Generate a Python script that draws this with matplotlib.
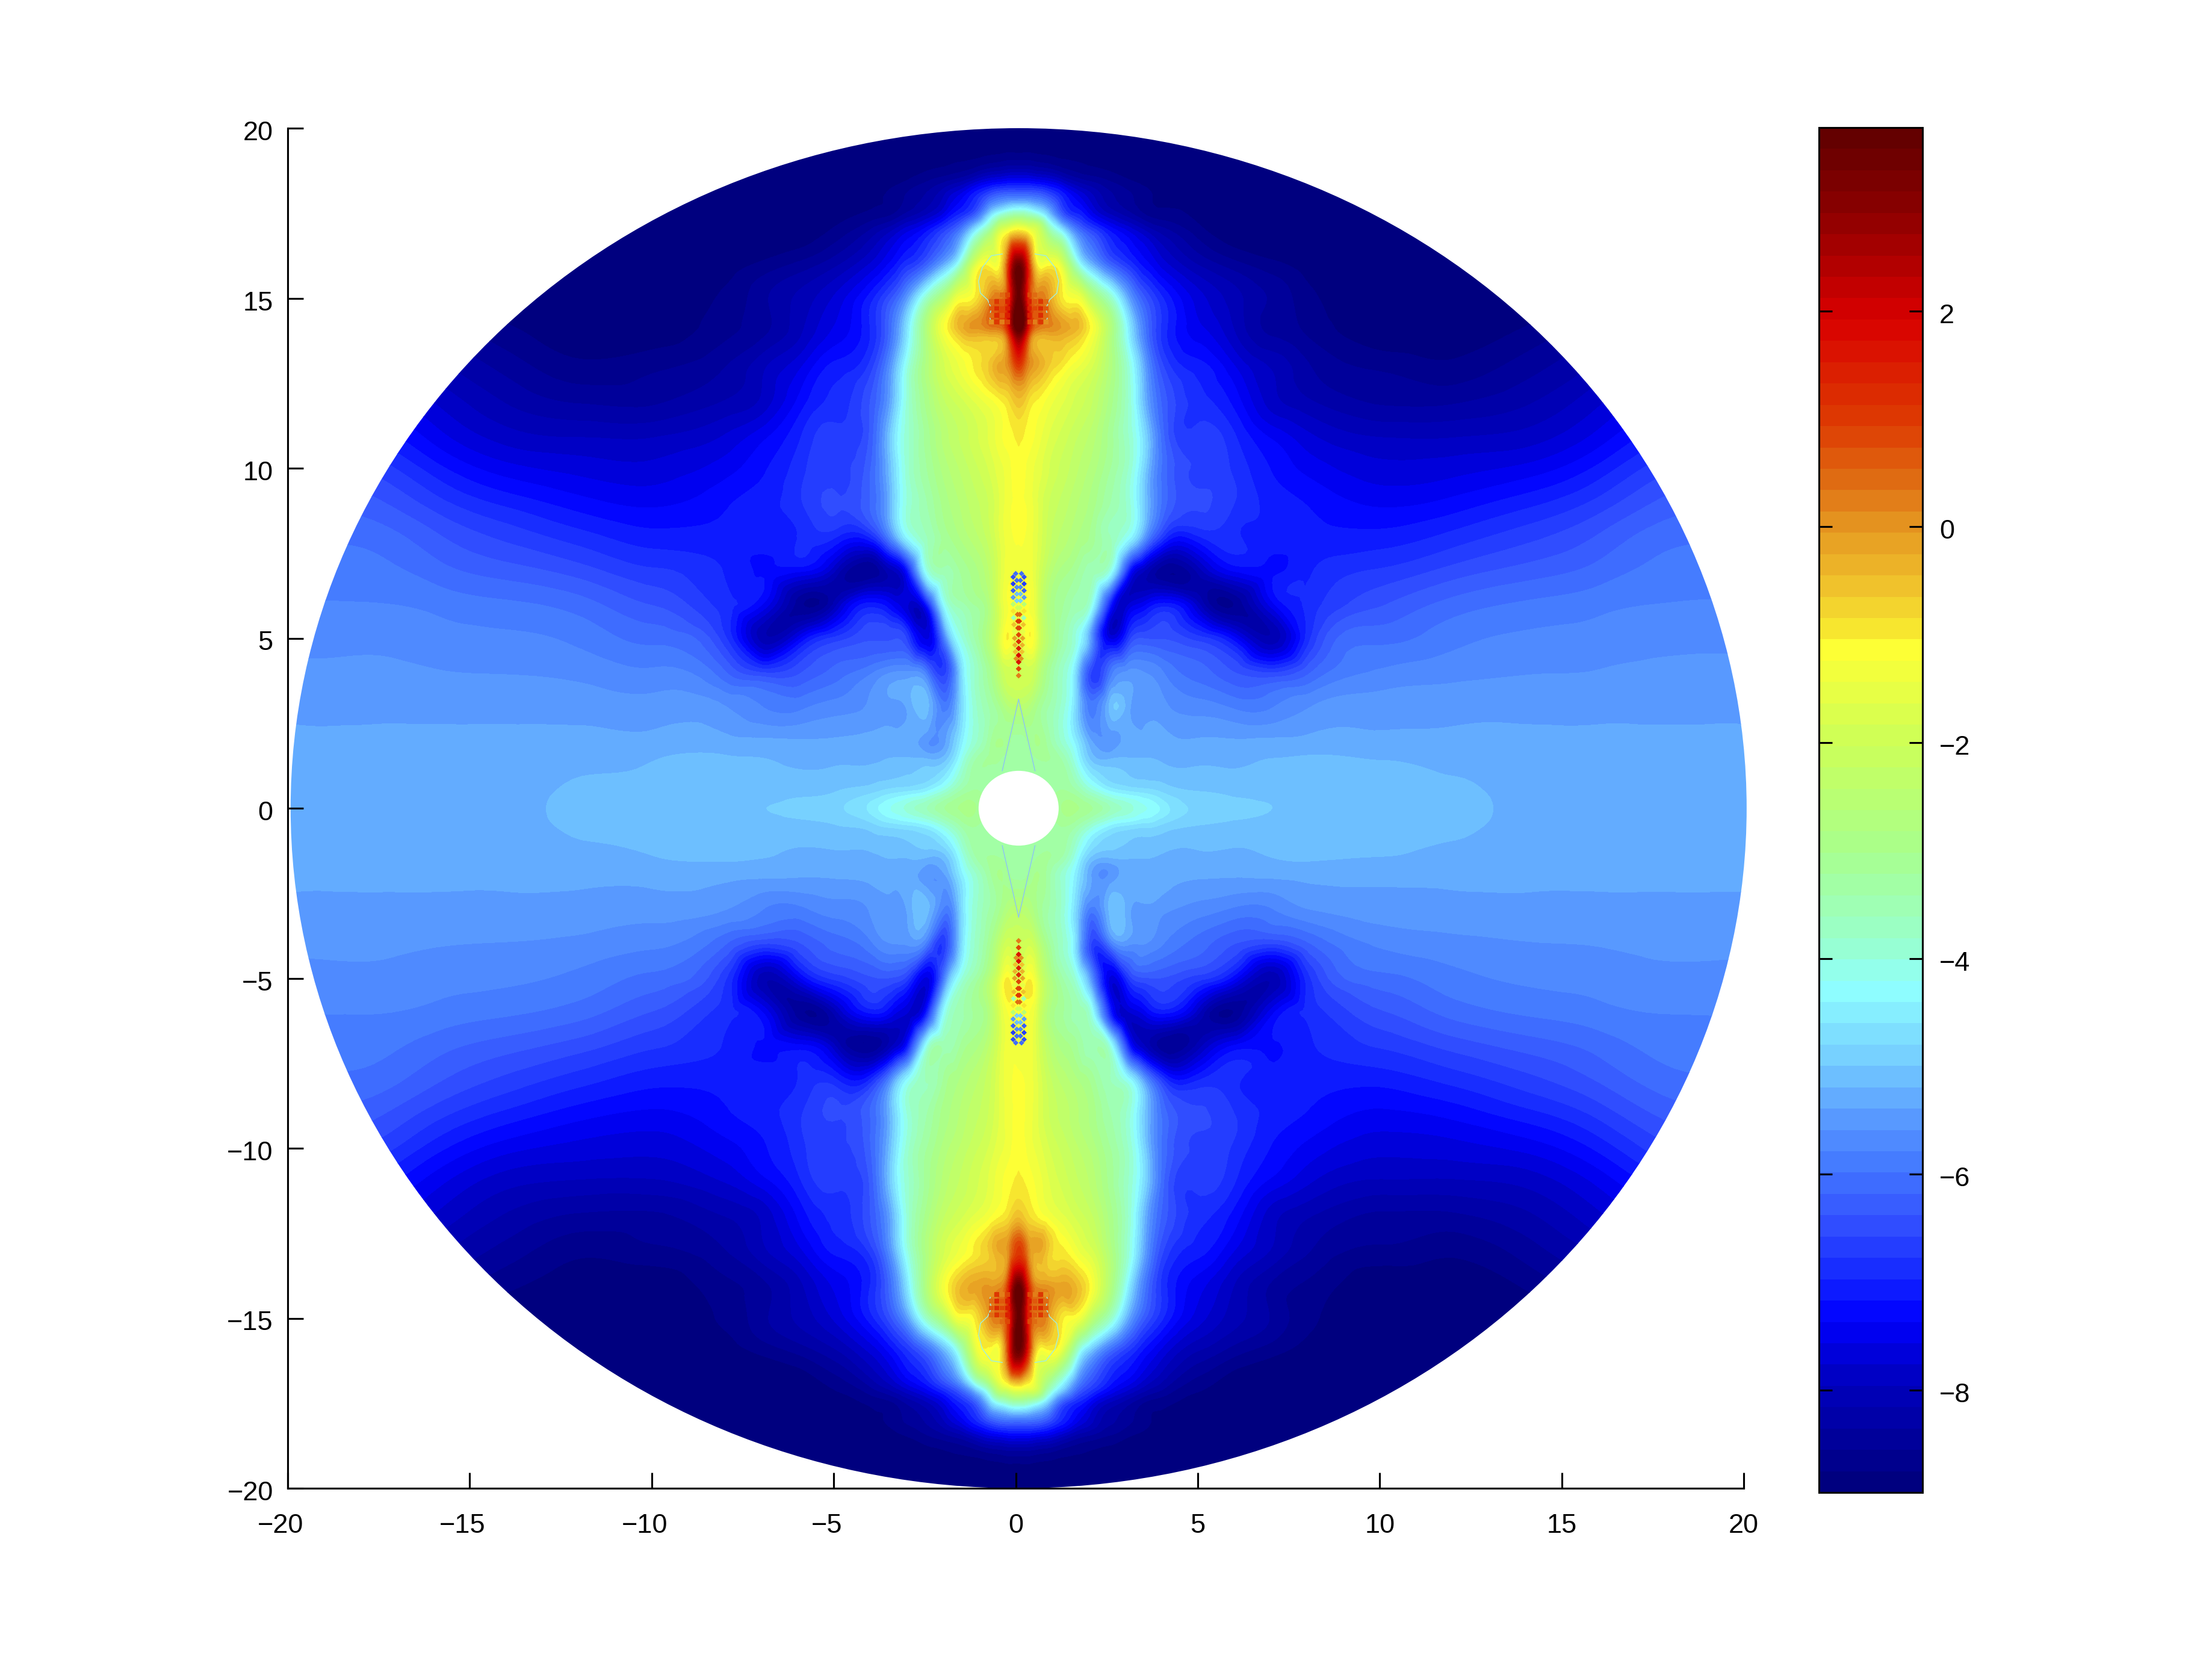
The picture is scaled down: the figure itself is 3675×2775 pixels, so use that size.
import numpy as np
import matplotlib
matplotlib.use('Agg')
import matplotlib.pyplot as plt
import matplotlib.tri as mtri
from matplotlib.colors import LinearSegmentedColormap, BoundaryNorm
from matplotlib.cm import ScalarMappable
from matplotlib.patches import Circle
from matplotlib.transforms import ScaledTranslation

plt.rcParams['font.family'] = ['Liberation Sans', 'DejaVu Sans']

# value range and colours
vmin, vmax = -8.95, 3.70
bar_ticks = [-8, -6, -4, -2, 0, 2]
axis_ticks = [-20, -15, -10, -5, 0, 5, 10, 15, 20]
cbar_vals = [-8.95, -8.0, -7.4, -7.0, -6.5, -6.0, -5.5, -5.0, -4.3, -3.9, -3.0, -2.0,
             -1.08, -1.0, -0.5, 0.0, 0.5, 1.0, 2.0, 3.0, 3.7]
cbar_cols = ['#00007f', '#0000bf', '#0000ff', '#1428ff', '#3350ff', '#4277ff', '#5a9cff', '#74ccff',
             '#8fffff', '#98ffd0', '#a8ff8c', '#ccff58', '#ffff33', '#f8ee30', '#f0c02c', '#e59a22',
             '#df6a12', '#de3c02', '#d80000', '#8c0000', '#640000']

# field in the upper right quadrant, read by eye: one row per y knot, one column per x knot
x_knots = [0, .25, .5, .8, 1.2, 1.6, 2, 2.5, 3, 3.5, 4, 5, 6, 7, 8, 10, 12, 14, 16, 18, 20]
y_knots = [0, .5, 1, 1.5, 2, 3, 4, 5, 6, 7, 8, 9, 10, 11, 12, 13, 14, 15, 16, 17, 17.5, 18, 18.5, 19, 20]
field = [
    [-3.3, -3.3, -3.3, -3.3, -3.0, -3.0, -3.2, -3.6, -3.9, -4.2, -4.5, -4.85, -4.95, -5.0, -5.08, -5.12, -5.14, -5.26, -5.29, -5.3, -5.3],
    [-3.3, -3.3, -3.3, -3.3, -3.2, -3.4, -3.9, -4.4, -4.6, -4.7, -4.85, -5.0, -5.05, -5.08, -5.1, -5.13, -5.16, -5.27, -5.29, -5.3, -5.3],
    [-3.3, -3.3, -3.3, -3.3, -3.3, -3.9, -4.6, -4.9, -5.0, -5.05, -5.1, -5.15, -5.17, -5.15, -5.14, -5.16, -5.2, -5.28, -5.3, -5.3, -5.3],
    [-3.3, -3.3, -3.2, -3.2, -3.5, -4.3, -5.1, -5.25, -5.2, -5.2, -5.25, -5.25, -5.25, -5.2, -5.18, -5.21, -5.25, -5.29, -5.3, -5.3, -5.3],
    [-3.3, -3.2, -3.0, -3.3, -3.9, -4.6, -5.4, -5.55, -5.3, -5.3, -5.32, -5.37, -5.38, -5.36, -5.34, -5.33, -5.33, -5.33, -5.33, -5.33, -5.33],
    [-2.5, -2.6, -3.0, -3.4, -3.9, -4.9, -5.9, -5.15, -5.3, -5.45, -5.55, -5.7, -5.85, -5.8, -5.6, -5.5, -5.47, -5.47, -5.47, -5.47, -5.47],
    [-2.0, -1.9, -2.3, -3.1, -3.8, -4.9, -6.6, -6.0, -5.55, -5.6, -5.8, -6.1, -6.4, -6.6, -6.2, -5.75, -5.65, -5.6, -5.58, -5.55, -5.55],
    [-1.7, -1.1, -1.6, -2.6, -3.4, -4.1, -5.6, -7.6, -6.8, -6.4, -6.4, -6.7, -7.4, -8.1, -6.8, -6.05, -5.85, -5.75, -5.7, -5.65, -5.65],
    [-1.2, -1.2, -1.7, -2.7, -3.2, -3.5, -4.1, -6.9, -7.8, -7.4, -7.1, -8.0, -8.5, -7.4, -6.9, -6.4, -6.1, -5.95, -5.85, -5.78, -5.78],
    [-1.3, -1.3, -1.7, -2.4, -2.9, -3.2, -3.5, -4.0, -6.8, -8.0, -8.5, -8.0, -7.3, -7.2, -7.0, -6.75, -6.5, -6.3, -6.1, -5.9, -5.9],
    [-1.2, -1.3, -1.6, -2.1, -2.5, -2.8, -3.1, -3.6, -4.2, -5.6, -6.8, -6.95, -6.95, -7.05, -7.1, -7.1, -6.9, -6.65, -6.35, -6.05, -6.05],
    [-1.2, -1.3, -1.6, -2.0, -2.3, -2.6, -2.9, -3.4, -3.9, -5.1, -6.1, -6.55, -6.8, -7.05, -7.2, -7.42, -7.3, -7.05, -6.7, -6.3, -6.3],
    [-1.1, -1.3, -1.5, -1.8, -2.1, -2.4, -2.7, -3.2, -3.8, -5.0, -6.1, -6.6, -6.85, -7.2, -7.45, -7.7, -7.65, -7.5, -7.1, -6.6, -6.6],
    [-1.0, -1.1, -1.3, -1.6, -1.9, -2.2, -2.5, -3.1, -3.8, -4.9, -6.2, -6.7, -7.0, -7.45, -7.75, -8.0, -8.0, -7.9, -7.5, -7.0, -7.0],
    [-0.5, -0.8, -1.05, -1.3, -1.6, -1.9, -2.2, -2.9, -3.8, -5.3, -6.3, -6.9, -7.3, -7.9, -8.15, -8.4, -8.4, -8.2, -7.8, -7.4, -7.4],
    [1.0, 0.2, -0.2, -0.6, -1.0, -1.4, -1.8, -2.7, -3.9, -5.5, -6.6, -7.1, -7.6, -8.0, -8.35, -8.6, -8.7, -8.45, -8.1, -7.8, -7.8],
    [3.5, 1.5, 0.0, -0.1, -0.2, -0.5, -1.2, -2.6, -4.4, -6.0, -6.9, -7.5, -8.0, -8.4, -8.6, -8.9, -8.9, -8.7, -8.4, -8.2, -8.2],
    [3.6, 1.5, 0.3, 0.0, -1.0, -1.3, -2.4, -3.7, -5.3, -6.4, -7.0, -7.7, -8.1, -8.4, -8.7, -8.9, -8.95, -8.9, -8.8, -8.7, -8.7],
    [3.4, 1.5, -1.0, -1.2, -1.8, -3.9, -5.2, -6.2, -6.8, -7.3, -7.7, -8.2, -8.5, -8.7, -8.85, -8.95, -8.95, -8.95, -8.95, -8.95, -8.95],
    [-1.0, -1.3, -1.8, -3.2, -4.6, -5.9, -6.6, -7.2, -7.6, -8.0, -8.3, -8.7, -8.9, -8.95, -8.95, -8.95, -8.95, -8.95, -8.95, -8.95, -8.95],
    [-3.6, -3.8, -4.2, -5.0, -6.4, -7.0, -7.5, -8.0, -8.3, -8.6, -8.7, -8.85, -8.9, -8.95, -8.95, -8.95, -8.95, -8.95, -8.95, -8.95, -8.95],
    [-6.0, -6.0, -6.1, -6.4, -7.0, -7.5, -7.9, -8.3, -8.5, -8.7, -8.8, -8.9, -8.95, -8.95, -8.95, -8.95, -8.95, -8.95, -8.95, -8.95, -8.95],
    [-7.5, -7.5, -7.6, -7.7, -8.0, -8.3, -8.45, -8.6, -8.75, -8.85, -8.9, -8.95, -8.95, -8.95, -8.95, -8.95, -8.95, -8.95, -8.95, -8.95, -8.95],
    [-8.5, -8.5, -8.55, -8.6, -8.7, -8.75, -8.8, -8.85, -8.9, -8.9, -8.9, -8.9, -8.9, -8.9, -8.9, -8.9, -8.9, -8.9, -8.9, -8.9, -8.9],
    [-8.95] * 21,
]

# lattice of small dots on the axis between y = 4 and y = 7
lattice_y = [3.9, 4.1, 4.3, 4.4, 4.5, 4.6, 4.7, 4.8, 4.9, 5.0, 5.1, 5.2, 5.3, 5.4, 5.5, 5.6, 5.7, 5.8, 5.9, 6.0, 6.1, 6.2, 6.3, 6.4, 6.5, 6.6, 6.7, 6.8, 6.9]
lattice_x = [0.0, 0.0, 0.0, 0.07, 0.0, 0.09, 0.0, 0.1, 0.0, 0.11, 0.0, 0.12, 0.02, 0.13, 0.02, 0.14, 0.03, 0.15, 0.03, 0.15, 0.05, 0.15, 0.05, 0.15, 0.05, 0.15, 0.05, 0.15, 0.08]
lattice_v = [0.2, 0.8, 1.6, 0.0, 1.8, -0.6, 1.4, -0.4, 1.2, -0.2, 0.9, -1.5, 0.8, -0.5, 1.0, -3.5, 0.4, -1.0, -2.0, -2.5, -4.8, -5.5, -5.0, -6.2, -5.6, -6.6, -6.0, -6.5, -6.0]

# red checker beside the spike above y = 14
check_x = [.3, .45, .6, .75, .3, .45, .6, .75, .3, .45, .6, .75, .3, .45, .6, .75, .3, .45, .6]
check_y = [14.3, 14.3, 14.3, 14.3, 14.5, 14.5, 14.5, 14.5, 14.7, 14.7, 14.7, 14.7, 14.9, 14.9, 14.9, 14.9, 15.1, 15.1, 15.1]
check_v = [0.9, 0.3, 1.0, 0.0, 1.4, 0.6, 1.2, 0.5, 1.5, 0.8, 1.3, 0.6, 1.4, 0.7, 1.1, 0.5, 0.9, 0.4, 0.3]

# thin cyan loops beside the spike near the tips
curl_x = [0.45, 0.75, 1.0, 1.1, 1.05, 0.85, 0.75, 0.8, 0.75]
curl_y = [16.3, 16.25, 15.9, 15.5, 15.15, 14.95, 14.7, 14.45, 14.3]
# thin blue lines running out from the hole
vee_x = [0.0, 0.15, 0.3, 0.45]
vee_y = [3.2, 2.5, 1.8, 1.1]

x0 = 0.08  # the disc sits a little right of the zero tick

fig = plt.figure(figsize=(14.7, 11.1), dpi=250)
ax = fig.add_axes([478/3675, 1-2473/2775, (2897-478)/3675, (2473-213)/2775])
cax = fig.add_axes([3022/3675, 1-2480/2775, (3194-3022)/3675, (2480-212)/2775])

pos = np.array(cbar_vals)
cmap = LinearSegmentedColormap.from_list('bar', list(zip((pos-vmin)/(vmax-vmin), cbar_cols)), N=64)
levels = np.linspace(vmin, vmax, 65)
norm = BoundaryNorm(levels, 64)

# mirror the quadrant into the full square
xq, yq = np.array(x_knots, float), np.array(y_knots, float)
zq = np.array(field)
xs = np.r_[-xq[:0:-1], xq]
ys = np.r_[-yq[:0:-1], yq]
zz = np.hstack([zq[:, :0:-1], zq])
zz = np.vstack([zz[:0:-1], zz])
X, Y = np.meshgrid(xs, ys)
tri = mtri.Triangulation(X.ravel() + x0, Y.ravel())
tri_f, z_f = mtri.UniformTriRefiner(tri).refine_field(zz.ravel(), subdiv=3)
z_f = np.clip(z_f, vmin + 0.001, vmax - 0.001)

cf = ax.tricontourf(tri_f, z_f, levels=levels, cmap=cmap, norm=norm)
disc = Circle((x0, 0), 20, transform=ax.transData)
cf.set_clip_path(disc)
cf.set_clip_box(None)

for sx in (-1, 1):
    for sy in (-1, 1):
        ax.plot(x0 + sx*np.array(curl_x), sy*np.array(curl_y), color='#a0eee0', lw=0.4, zorder=3)
        ax.plot(x0 + sx*np.array(vee_x), sy*np.array(vee_y), color='#8cc4f2', lw=0.4, zorder=3)
        ax.scatter(x0 + sx*np.array(check_x), sy*np.array(check_y), c=check_v, s=5,
                   marker='s', cmap=cmap, norm=norm, linewidths=0, zorder=3)
        ax.scatter(x0 + sx*np.array(lattice_x), sy*np.array(lattice_y), c=lattice_v, s=3.5,
                   marker='D', cmap=cmap, norm=norm, linewidths=0, zorder=3)

ax.add_patch(Circle((x0, 0), 1.1, color='white', lw=0, zorder=4))

ax.set_xlim(-20, 20)
ax.set_ylim(-20, 20)
ax.set_xticks(axis_ticks)
ax.set_yticks(axis_ticks)
ax.spines['top'].set_visible(False)
ax.spines['right'].set_visible(False)
for s in ax.spines.values():
    s.set_linewidth(0.9)
ax.tick_params(axis='x', direction='in', length=7.4, width=0.9, labelsize=13, pad=12)
ax.tick_params(axis='y', direction='in', length=7.4, width=0.9, labelsize=13, pad=7)

cb = fig.colorbar(ScalarMappable(norm=norm, cmap=cmap), cax=cax, spacing='proportional')
cb.set_ticks(bar_ticks)
cb.ax.minorticks_off()
cb.outline.set_linewidth(0.9)
cax.tick_params(axis='y', which='both', direction='in', length=0, labelsize=13, pad=8)
cax.hlines(bar_ticks, 0, 0.13, transform=cax.get_yaxis_transform(), color='k', lw=0.9)
cax.hlines(bar_ticks, 0.87, 1, transform=cax.get_yaxis_transform(), color='k', lw=0.9)

# the tick labels sit slightly off their ticks in the original
fig.canvas.draw()
for val, lab in zip(axis_ticks, ax.get_xticklabels()):
    if val < 0:
        lab.set_transform(lab.get_transform() + ScaledTranslation(-12/250, 0, fig.dpi_scale_trans))
for lab in ax.get_yticklabels() + cax.get_yticklabels():
    lab.set_transform(lab.get_transform() + ScaledTranslation(0, -4/250, fig.dpi_scale_trans))

fig.savefig('out.png', dpi=250)
